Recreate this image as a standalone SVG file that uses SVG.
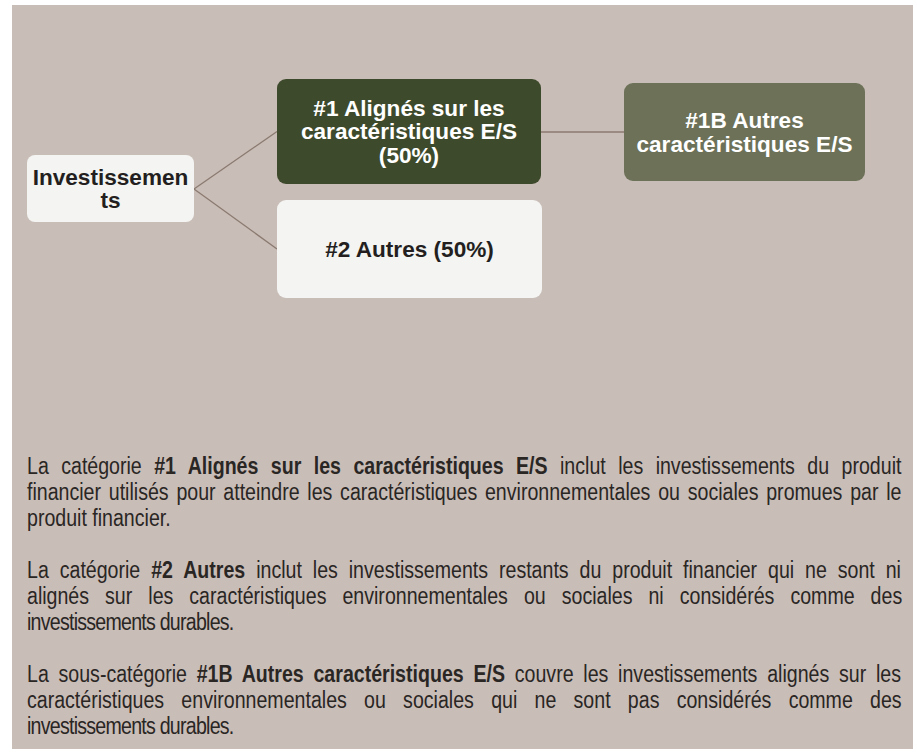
<svg xmlns="http://www.w3.org/2000/svg" width="917" height="753" viewBox="0 0 917 753">
<style>
.node text{font-family:"Liberation Sans",Arial,sans-serif;font-weight:bold;font-size:22.6px;text-anchor:middle}
.dark{fill:#231f20}
.light{fill:#ffffff}
.body{font-family:"Liberation Sans",Arial,sans-serif;font-size:23.5px;fill:#2a2624}
.b{font-weight:bold}
.conn line{stroke:#8a7a70;stroke-width:1.3}
</style>
<rect x="0" y="0" width="917" height="753" fill="#ffffff"/>
<rect x="12" y="5" width="901" height="744" fill="#c9bdb7"/>
<g class="conn" id="connectors">
<line x1="194" y1="189" x2="277" y2="131.5"/>
<line x1="194" y1="189" x2="277" y2="249"/>
<line x1="541" y1="132" x2="624" y2="132"/>
</g>
<g class="node" id="n-invest">
<rect x="27" y="155" width="167" height="67" rx="8" fill="#f4f4f2"/>
<text class="dark" x="110.5" y="184.5">Investissemen</text>
<text class="dark" x="110.5" y="207.5">ts</text>
</g>
<g class="node" id="n-1">
<rect x="277" y="79" width="264" height="105" rx="9" fill="#3e4a2c"/>
<text class="light" x="409" y="115.5">#1 Alignés sur les</text>
<text class="light" x="409" y="139">caractéristiques E/S</text>
<text class="light" x="409" y="162.5">(50%)</text>
</g>
<g class="node" id="n-2">
<rect x="277" y="200" width="265" height="98" rx="9" fill="#f4f4f2"/>
<text class="dark" x="409.5" y="256.5">#2 Autres (50%)</text>
</g>
<g class="node" id="n-1b">
<rect x="624" y="83" width="241" height="98" rx="9" fill="#6c7158"/>
<text class="light" x="744.5" y="128">#1B Autres</text>
<text class="light" x="744.5" y="151.5">caractéristiques E/S</text>
</g>
<g id="legend" transform="translate(27 0) scale(0.8333 1)">
<text class="body" x="0" y="474" word-spacing="8.4">La catégorie <tspan class="b">#1 Alignés sur les caractéristiques E/S</tspan> inclut les investissements du produit</text>
<text class="body" x="0" y="500" word-spacing="2.8">financier utilisés pour atteindre les caractéristiques environnementales ou sociales promues par le</text>
<text class="body" x="0" y="526">produit financier.</text>
<text class="body" x="0" y="578" word-spacing="6.6">La catégorie <tspan class="b">#2 Autres</tspan> inclut les investissements restants du produit financier qui ne sont ni</text>
<text class="body" x="0" y="604" word-spacing="12.7">alignés sur les caractéristiques environnementales ou sociales ni considérés comme des</text>
<text class="body" x="0" y="630" letter-spacing="-0.9">investissements durables.</text>
<text class="body" x="0" y="682" word-spacing="5.2">La sous-catégorie <tspan class="b">#1B Autres caractéristiques E/S</tspan> couvre les investissements alignés sur les</text>
<text class="body" x="0" y="708" word-spacing="14.2">caractéristiques environnementales ou sociales qui ne sont pas considérés comme des</text>
<text class="body" x="0" y="734" letter-spacing="-0.9">investissements durables.</text>
</g>
</svg>
